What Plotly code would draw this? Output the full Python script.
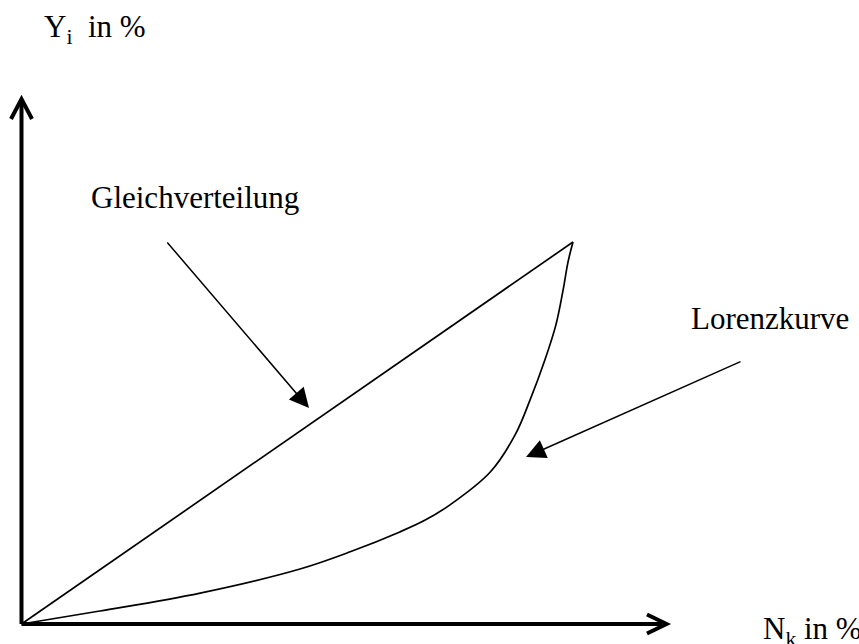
import plotly.graph_objects as go

# ---------------- data (percent) ----------------
N_K_PCT = [0, 14.2, 32.4, 50.5, 59.6, 68.6, 73.2, 77.7, 85.0, 89.5, 92.2, 94.9, 96.9, 98.2, 99.1, 100]
Y_I_PCT = [0, 3.4, 8.1, 14.4, 18.9, 24.1, 27.2, 31.2, 39.8, 49.5, 58.6, 69.1, 78.3, 87.4, 94.8, 100]
EQUAL_X = [0, 100]
EQUAL_Y = [0, 100]

LABEL_Y = "Y<sub>i</sub>\u00a0 in %"
LABEL_X = "N<sub>k</sub> in %"
LABEL_EQUAL = "Gleichverteilung"
LABEL_LORENZ = "Lorenzkurve"

# ---------------- layout helpers ----------------
W, H = 859, 644
ORIGIN = (21.5, 624)      # pixel of (0 %, 0 %)
PX_X = 5.515              # pixels per percent, x
PX_Y = 3.82               # pixels per percent, y


def dx(px):
    return (px - ORIGIN[0]) / PX_X


def dy(py):
    return (ORIGIN[1] - py) / PX_Y


FONT = dict(family="Liberation Serif, Times New Roman, serif", size=31, color="black")

fig = go.Figure()
fig.add_trace(go.Scatter(x=EQUAL_X, y=EQUAL_Y, mode="lines",
                         line=dict(color="black", width=1.7), hoverinfo="skip"))
fig.add_trace(go.Scatter(x=N_K_PCT, y=Y_I_PCT, mode="lines",
                         line=dict(color="black", width=1.7, shape="spline", smoothing=1.0),
                         hoverinfo="skip"))

shapes = []
# axes shafts
shapes.append(dict(type="line", xref="x", yref="y", x0=dx(21.5), y0=dy(624), x1=dx(665), y1=dy(624),
                   line=dict(color="black", width=4)))
shapes.append(dict(type="line", xref="x", yref="y", x0=dx(21.5), y0=dy(624), x1=dx(21.5), y1=dy(100),
                   line=dict(color="black", width=4)))
# chevrons
shapes.append(dict(type="path", xref="x", yref="y",
                   path=f"M{dx(647)},{dy(614.5)} L{dx(666.5)},{dy(624)} L{dx(647)},{dy(633.5)}",
                   line=dict(color="black", width=4)))
shapes.append(dict(type="path", xref="x", yref="y",
                   path=f"M{dx(11)},{dy(119)} L{dx(21.5)},{dy(99)} L{dx(32)},{dy(119)}",
                   line=dict(color="black", width=4)))

annotations = [
    dict(text=LABEL_Y, x=dx(42), y=dy(29), xref="x", yref="y", xanchor="left", yanchor="middle",
         showarrow=False, font=FONT),
    dict(text=LABEL_X, x=dx(761), y=dy(630.5), xref="x", yref="y", xanchor="left", yanchor="middle",
         showarrow=False, font=FONT),
    dict(text=LABEL_EQUAL, x=dx(195.4), y=dy(197.8), xref="x", yref="y", xanchor="center", yanchor="middle",
         showarrow=False, font=FONT),
    dict(text=LABEL_LORENZ, x=dx(770), y=dy(318.5), xref="x", yref="y", xanchor="center", yanchor="middle",
         showarrow=False, font=FONT),
    # pointer arrows
    dict(text="", x=dx(309), y=dy(408), ax=dx(166), ay=dy(241), xref="x", yref="y", axref="x", ayref="y",
         showarrow=True, arrowhead=2, arrowsize=2.6, arrowwidth=1.5, arrowcolor="black"),
    dict(text="", x=dx(526), y=dy(457), ax=dx(742), ay=dy(361), xref="x", yref="y", axref="x", ayref="y",
         showarrow=True, arrowhead=2, arrowsize=2.6, arrowwidth=1.5, arrowcolor="black"),
]

fig.update_layout(
    width=W, height=H,
    margin=dict(l=0, r=0, t=0, b=0),
    paper_bgcolor="white", plot_bgcolor="white",
    showlegend=False,
    xaxis=dict(range=[dx(0), dx(W)], visible=False, fixedrange=True),
    yaxis=dict(range=[dy(H), dy(0)], visible=False, fixedrange=True),
    shapes=shapes,
    annotations=annotations,
)

fig.write_html(
    "out.html",
    config={"displayModeBar": False},
    post_script="document.body.style.margin='0';document.body.style.overflow='hidden';",
)
